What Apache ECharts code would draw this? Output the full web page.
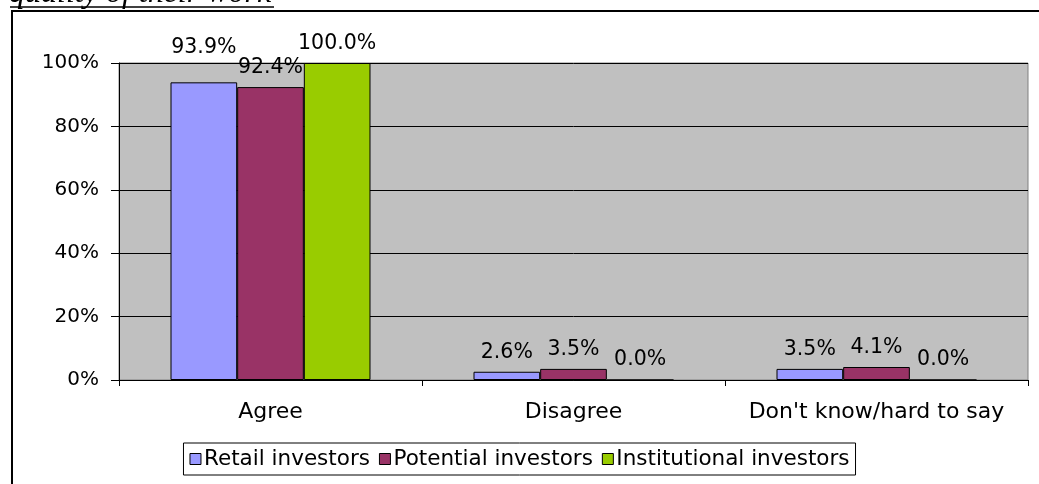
<!DOCTYPE html>
<html lang="en">
  <head>
    <meta charset="UTF-8" />
    <title>Investor opinion chart</title>
    <style>
      html, body { margin: 0; padding: 0; background: #fff; }
      #main { width: 1039px; height: 484px; }
    </style>
  </head>
  <body>
    <div id="main"></div>
    <script src="https://cdn.jsdelivr.net/npm/echarts@6/dist/echarts.min.js"></script>
    <script>
      // data
      const categories = ["Agree", "Disagree", "Don't know/hard to say"];
      const seriesNames = ["Retail investors", "Potential investors", "Institutional investors"];
      const retail = [93.9, 2.6, 3.5];
      const potential = [92.4, 3.5, 4.1];
      const institutional = [100.0, 0.0, 0.0];
      const yTicks = [0, 20, 40, 60, 80, 100];

      const colors = ["#9999FF", "#993366", "#99CC00"];
      const font = "DejaVu Sans";

      const dom = document.getElementById("main");
      const myChart = echarts.init(dom);

      // the 93.9% label sits higher in the original
      function makeData(values, lift) {
        return values.map((v, i) =>
          lift && lift[i] ? { value: v, label: { offset: [0, lift[i]] } } : v
        );
      }

      const seriesValues = [retail, potential, institutional];
      const lifts = [{ 0: -15 }, null, null];

      myChart.setOption({
        animation: false,
        color: colors,
        textStyle: { fontFamily: font },
        graphic: [
          {
            type: "rect",
            shape: { x: 12, y: 11, width: 1100, height: 600 },
            style: { fill: "none", stroke: "#000", lineWidth: 2 },
            silent: true,
          },
          {
            type: "text",
            left: 9,
            top: -22.5,
            style: {
              text: "quality of their work",
              font: "italic 32px 'Liberation Serif'",
              fill: "#000",
            },
          },
          {
            type: "line",
            shape: { x1: 10, y1: 7, x2: 274, y2: 7 },
            style: { stroke: "#000", lineWidth: 1.5 },
          },
        ],
        legend: {
          data: seriesNames,
          bottom: 9,
          left: "center",
          padding: [5, 6, 5, 6],
          borderColor: "#000",
          borderWidth: 1,
          itemWidth: 11,
          itemHeight: 11,
          itemGap: 9,
          icon: "rect",
          itemStyle: { borderColor: "#000", borderWidth: 1 },
          textStyle: { fontFamily: font, fontSize: 21.5, color: "#000", padding: [0, 0, 0, -2] },
        },
        grid: {
          left: 119,
          right: 11,
          top: 63,
          bottom: 104,
          show: true,
          backgroundColor: "#C0C0C0",
          borderColor: "#808080",
          borderWidth: 1,
        },
        xAxis: {
          type: "category",
          data: categories,
          axisLine: { lineStyle: { color: "#000", width: 1 } },
          axisTick: { show: true, length: 6, lineStyle: { color: "#000" } },
          axisLabel: { interval: 0, fontFamily: font, fontSize: 22, color: "#000", margin: 21 },
        },
        yAxis: {
          type: "value",
          min: yTicks[0],
          max: yTicks[yTicks.length - 1],
          interval: 20,
          axisLine: { show: true, lineStyle: { color: "#000", width: 1 } },
          axisTick: { show: true, length: 8, lineStyle: { color: "#000" } },
          axisLabel: {
            fontFamily: font,
            fontSize: 20,
            color: "#000",
            margin: 20,
            formatter: "{value}%",
          },
          splitLine: { lineStyle: { color: "#000", width: 1 } },
        },
        series: seriesNames.map((name, k) => ({
          name: name,
          type: "bar",
          data: makeData(seriesValues[k], lifts[k]),
          barGap: "0%",
          barCategoryGap: "34%",
          itemStyle: { color: colors[k], borderColor: "#000", borderWidth: 1 },
          label: {
            show: true,
            position: "top",
            distance: 9,
            fontFamily: font,
            fontSize: 20.5,
            color: "#000",
            formatter: (p) => p.value.toFixed(1) + "%",
          },
        })),
      });
    </script>
  </body>
</html>
